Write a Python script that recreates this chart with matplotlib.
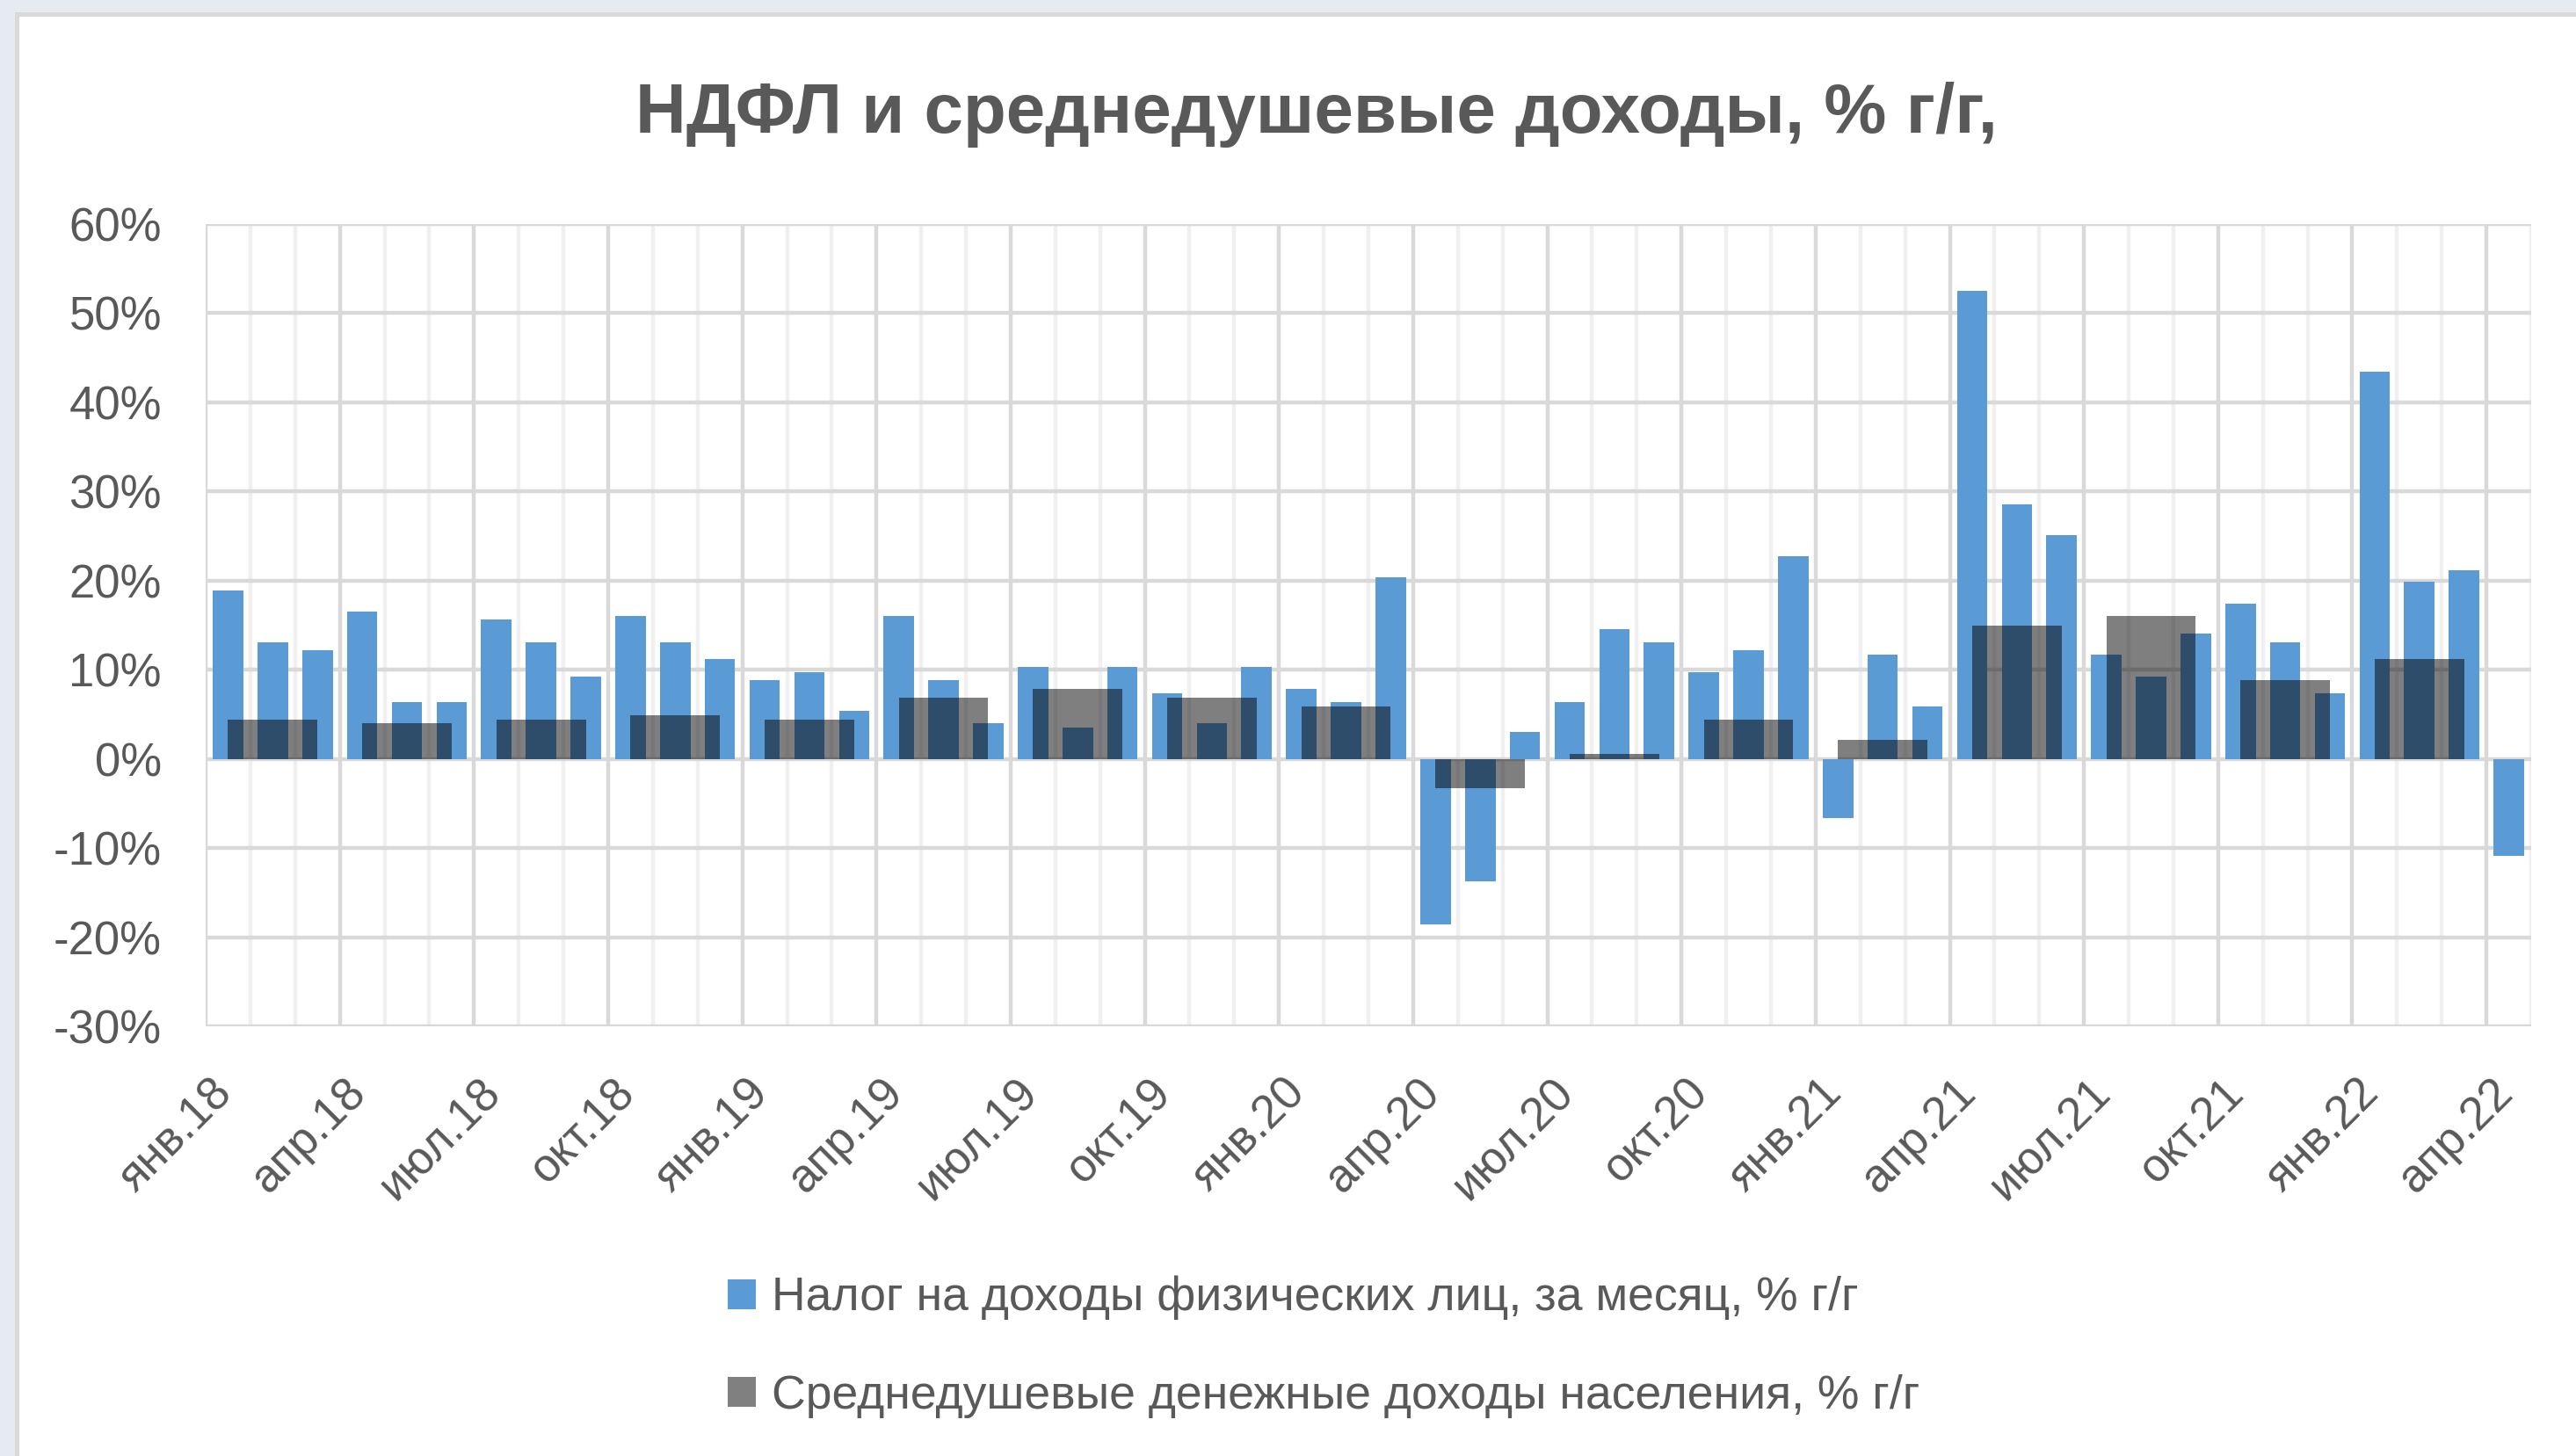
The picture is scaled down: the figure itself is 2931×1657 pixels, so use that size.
import numpy as np
import matplotlib
matplotlib.use("Agg")
import matplotlib.pyplot as plt
from matplotlib.patches import Rectangle, Patch
from matplotlib.transforms import ScaledTranslation

plt.rcParams['font.family'] = ['Liberation Sans', 'DejaVu Sans']

# ---------------- data ----------------
month_names = ["янв", "фев", "мар", "апр", "май", "июн",
               "июл", "авг", "сен", "окт", "ноя", "дек"]
years = ["18", "19", "20", "21", "22"]
months = [f"{m}.{y}" for y in years for m in month_names][:52]   # янв.18 .. апр.22

# НДФЛ, за месяц, % г/г (monthly)
ndfl = [18.9, 13.1, 12.2, 16.5, 6.4, 6.4, 15.6, 13.1, 9.2, 16.0, 13.1, 11.2,
        8.8, 9.7, 5.4, 16.0, 8.8, 4.05, 10.3, 3.5, 10.3, 7.4, 4.05, 10.3,
        7.9, 6.4, 20.4, -18.6, -13.7, 3.0, 6.4, 14.6, 13.1, 9.7, 12.2, 22.7,
        -6.6, 11.7, 5.9, 52.5, 28.6, 25.1, 11.7, 9.2, 14.1, 17.4, 13.1, 7.4,
        43.4, 19.9, 21.2, -10.9]

# Среднедушевые денежные доходы, % г/г (quarterly, Q1 2018 .. Q1 2022)
quarters = ["1кв18", "2кв18", "3кв18", "4кв18", "1кв19", "2кв19", "3кв19", "4кв19",
            "1кв20", "2кв20", "3кв20", "4кв20", "1кв21", "2кв21", "3кв21", "4кв21",
            "1кв22"]
income = [4.4, 4.05, 4.4, 4.9, 4.4, 6.9, 7.9, 6.9,
          5.9, -3.3, 0.6, 4.4, 2.1, 15.0, 16.0, 8.8, 11.2]

tick_labels = months[::3]
y_ticks = [-30, -20, -10, 0, 10, 20, 30, 40, 50, 60]

title = "НДФЛ и среднедушевые доходы, % г/г,"
label_ndfl = "Налог на доходы физических лиц, за месяц, % г/г"
label_income = "Среднедушевые денежные доходы населения, % г/г"

# ---------------- figure ----------------
W, H = 2931, 1657
fig = plt.figure(figsize=(W / 100, H / 100), dpi=100)
fig.patch.set_facecolor("#E6EBF2")
fig.patches.append(Rectangle((17 / W, 0), 1, (H - 14) / H, transform=fig.transFigure,
                             facecolor="#D9D9D9", edgecolor="none", zorder=-10))
fig.patches.append(Rectangle((22 / W, 0), 1, (H - 19) / H, transform=fig.transFigure,
                             facecolor="white", edgecolor="none", zorder=-9))

left, right = 234 / W, 2880 / W
bottom, top = (H - 1168) / H, (H - 255) / H
ax = fig.add_axes([left, bottom, right - left, top - bottom])
ax.set_facecolor("none")

TEXT = "#595959"
BLUE = "#5B9BD5"
GRID = "#D9D9D9"
GRID_MINOR = "#F0F0F0"

x = np.arange(len(months))
ax.bar(x, ndfl, width=0.68, color=BLUE, zorder=2, label=label_ndfl)
xq = np.arange(len(quarters)) * 3 + 1   # middle month of each quarter
ax.bar(xq, income, width=2.0, color="black", alpha=0.5, zorder=3, label=label_income)

ax.set_xlim(-0.5, len(months) - 0.5)
ax.set_ylim(-30, 60)

# gridlines
ax.set_yticks(y_ticks)
ax.set_yticklabels([f"{v}%" for v in y_ticks])
ax.yaxis.grid(True, color=GRID, lw=3.2, zorder=0)
for b in np.arange(-0.5, len(months), 1):
    major = (round(b + 0.5) % 3 == 0)
    ax.axvline(b, color=GRID if major else GRID_MINOR, lw=3.2, zorder=0.5 if major else 0.4)
ax.set_axisbelow(True)

for s in ax.spines.values():
    s.set_visible(False)

ax.set_xticks(x[::3])
ax.set_xticklabels(tick_labels, rotation=45, ha="right", va="center",
                   rotation_mode="anchor", fontsize=38, color=TEXT)
ax.tick_params(axis="x", length=0, pad=49)
ax.tick_params(axis="y", length=0, pad=36, labelsize=38, labelcolor=TEXT)
for lbl in ax.get_xticklabels():
    lbl.set_transform(lbl.get_transform() + ScaledTranslation(-0.03, 0, fig.dpi_scale_trans))

fig.text(1498 / W, (H - 151) / H, title, ha="center", va="baseline",
         fontsize=57.5, fontweight="bold", color=TEXT)

handles = [Patch(facecolor=BLUE), Patch(facecolor="#808080")]
fig.legend(handles, [label_ndfl, label_income], loc="upper left",
           bbox_to_anchor=(828 / W, 1 - 1452 / H), frameon=False,
           fontsize=38.5, labelcolor=TEXT, handlelength=0.6, handleheight=0.6,
           handletextpad=0.34, labelspacing=1.15, borderpad=0, borderaxespad=0)

fig.savefig("out.png", dpi=100, facecolor=fig.get_facecolor())
